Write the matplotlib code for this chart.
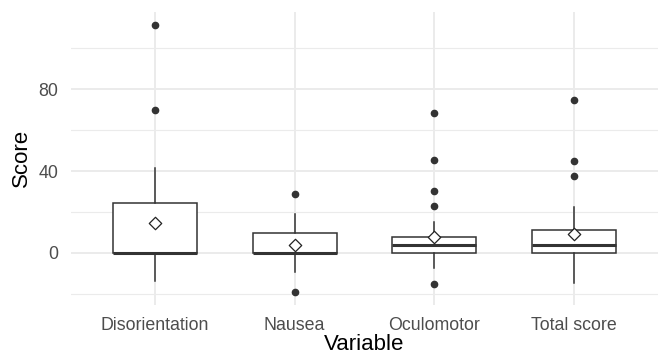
import matplotlib
matplotlib.use("Agg")
import matplotlib.pyplot as plt
from matplotlib.ticker import MultipleLocator

plt.rcParams["font.family"] = ["Liberation Sans", "DejaVu Sans"]

categories = ["Disorientation", "Nausea", "Oculomotor", "Total score"]
q1 = [0.0, 0.0, 0.0, 0.0]
medians = [0.0, 0.0, 3.9, 3.9]
q3 = [24.5, 9.6, 7.6, 11.4]
whisker_low = [-13.7, -9.4, -7.2, -14.8]
whisker_high = [41.6, 18.9, 15.3, 22.3]
means = [14.5, 3.9, 7.6, 9.1]
outliers = [
    [111.4, 69.6],
    [28.6, -19.0],
    [68.3, 45.5, 30.4, 22.8, -15.1],
    [74.8, 44.9, 37.6],
]

stats = []
for i, name in enumerate(categories):
    stats.append(dict(label=name, q1=q1[i], med=medians[i], q3=q3[i],
                      whislo=whisker_low[i], whishi=whisker_high[i],
                      fliers=outliers[i]))

fig = plt.figure(figsize=(6.59, 3.58), dpi=100)
ax = fig.add_axes([71/659, 1-305/358, (658-71)/659, (305-11.7)/358])

positions = list(range(1, len(categories) + 1))
ax.bxp(stats, positions=positions, widths=0.6, showfliers=True,
       patch_artist=True, showcaps=False,
       boxprops=dict(facecolor="white", edgecolor="#333333", linewidth=1.1),
       medianprops=dict(color="#333333", linewidth=2.2, solid_capstyle="butt"),
       whiskerprops=dict(color="#333333", linewidth=1.1),
       flierprops=dict(marker="o", markerfacecolor="#333333",
                       markeredgecolor="#333333", markersize=4.5, linestyle="none"),
       zorder=3)
ax.scatter(positions, means, marker="D", s=40, facecolor="white",
           edgecolor="#222222", linewidths=0.9, zorder=5)

ax.set_xlim(0.4, len(categories) + 0.6)
ax.set_ylim(-25.5, 117.9)
ax.yaxis.set_major_locator(MultipleLocator(40))
ax.yaxis.set_minor_locator(MultipleLocator(20))
ax.set_xticks(positions)
ax.set_xticklabels(categories)

ax.grid(True, which="major", color="#EBEBEB", linewidth=1.4, zorder=0)
ax.grid(True, which="minor", axis="y", color="#EBEBEB", linewidth=0.8, zorder=0)
ax.set_axisbelow(True)
for s in ax.spines.values():
    s.set_visible(False)
ax.tick_params(axis="both", which="both", length=0, labelsize=12.8,
               labelcolor="#4D4D4D")
ax.tick_params(axis="y", pad=9)
ax.tick_params(axis="x", pad=9)
ax.set_xlabel("Variable", fontsize=16, color="black", labelpad=0)
ax.set_ylabel("Score", fontsize=16, color="black", labelpad=5)

fig.savefig("out.png", dpi=100)
